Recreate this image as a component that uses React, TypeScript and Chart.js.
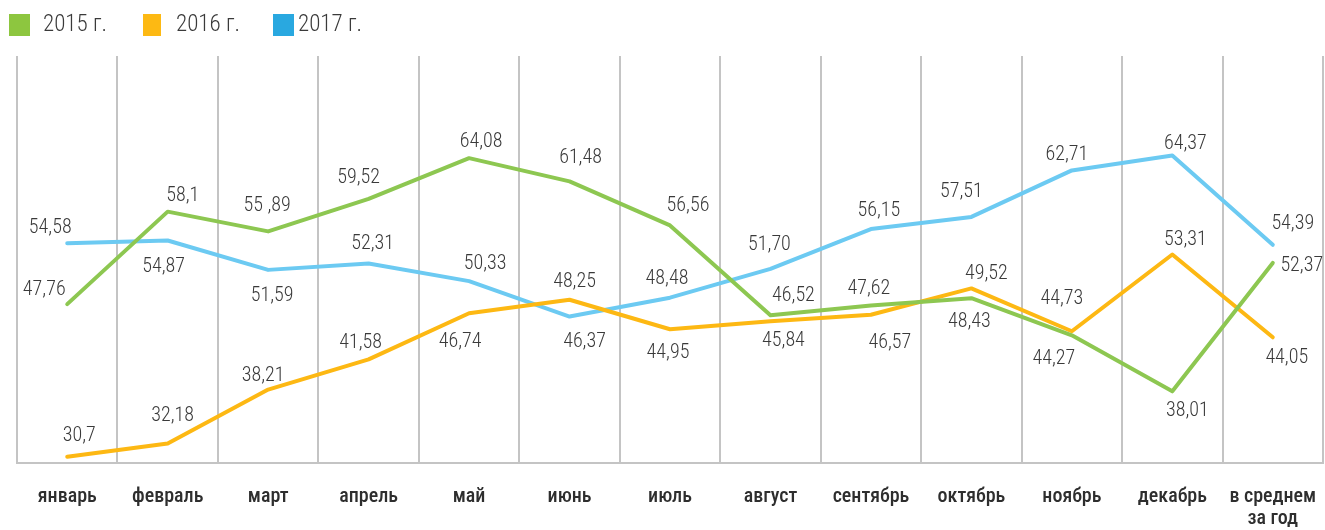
import React, { useEffect, useRef } from "react";
import { Chart, registerables } from "chart.js";

Chart.register(...registerables);

// ---- data ----
const categories: (string | string[])[] = [
  "январь",
  "февраль",
  "март",
  "апрель",
  "май",
  "июнь",
  "июль",
  "август",
  "сентябрь",
  "октябрь",
  "ноябрь",
  "декабрь",
  ["в среднем", "за год"],
];

const seriesNames = ["2015 г.", "2016 г.", "2017 г."];

const values2015 = [47.76, 58.1, 55.89, 59.52, 64.08, 61.48, 56.56, 46.52, 47.62, 48.43, 44.27, 38.01, 52.37];
const values2016 = [30.7, 32.18, 38.21, 41.58, 46.74, 48.25, 44.95, 45.84, 46.57, 49.52, 44.73, 53.31, 44.05];
const values2017 = [54.58, 54.87, 51.59, 52.31, 50.33, 46.37, 48.48, 51.7, 56.15, 57.51, 62.71, 64.37, 54.39];

const texts2015 = ["47,76", "58,1", "55 ,89", "59,52", "64,08", "61,48", "56,56", "46,52", "47,62", "48,43", "44,27", "38,01", "52,37"];
const texts2016 = ["30,7", "32,18", "38,21", "41,58", "46,74", "48,25", "44,95", "45,84", "46,57", "49,52", "44,73", "53,31", "44,05"];
const texts2017 = ["54,58", "54,87", "51,59", "52,31", "50,33", "46,37", "48,48", "51,70", "56,15", "57,51", "62,71", "64,37", "54,39"];

// ---- label placement (offset of label centre from its point, px) ----
const offsets2015: [number, number][] = [
  [-23, -16], [15, -18], [-1, -27], [-10, -23], [12, -18], [11, -25], [18, -21],
  [23, -21], [-2, -18], [-2, 22], [-18, 22], [15, 18], [29, 1],
];
const offsets2016: [number, number][] = [
  [12, -23], [5, -29], [-5, -16], [-8, -18], [-9, 27], [5, -20], [-2, 22],
  [13, 18], [19, 26], [15, -16], [-10, -34], [13, -16], [14, 19],
];
const offsets2017: [number, number][] = [
  [-17, -17], [-4, 24], [4, 24], [4, -21], [16, -19], [15, 23], [-3, -21],
  [-1, -26], [8, -20], [-10, -27], [-5, -17], [13, -14], [20, -23],
];

// ---- styles ----
const lineColors = ["#8dc751", "#fdb813", "#6ccaf2"];
const legendColors = ["#8dc63f", "#fdb913", "#29a8e0"];
const textColor = "#3a3a3a";
const gridColor = "#c4c4c4";
const FONT = '"Roboto Condensed", "Roboto", sans-serif';

const allTexts = [texts2015, texts2016, texts2017];
const allOffsets = [offsets2015, offsets2016, offsets2017];

const valueLabelPlugin = {
  id: "valueLabels",
  afterDatasetsDraw(chart: any) {
    const ctx: CanvasRenderingContext2D = chart.ctx;
    ctx.save();
    ctx.font = `300 20px ${FONT}`;
    ctx.fillStyle = textColor;
    ctx.textAlign = "center";
    ctx.textBaseline = "alphabetic";
    chart.data.datasets.forEach((_ds: any, di: number) => {
      const meta = chart.getDatasetMeta(di);
      meta.data.forEach((el: any, i: number) => {
        const [dx, dy] = allOffsets[di][i];
        ctx.fillText(allTexts[di][i], el.x + dx, el.y + dy + 7);
      });
    });
    ctx.restore();
  },
};

const legendLayout = [
  { box: 9, boxW: 21, text: 43 },
  { box: 143, boxW: 18, text: 176 },
  { box: 273, boxW: 21, text: 298 },
];

export default function App() {
  const canvasRef = useRef<HTMLCanvasElement | null>(null);

  useEffect(() => {
    document.body.style.margin = "0";
    const canvas = canvasRef.current;
    if (!canvas) return;
    const seriesValues = [values2015, values2016, values2017];
    const chart = new Chart(canvas, {
      type: "line",
      data: {
        labels: categories as any,
        datasets: seriesValues.map((vals, i) => ({
          label: seriesNames[i],
          data: vals,
          borderColor: lineColors[i],
          backgroundColor: lineColors[i],
          borderWidth: 4,
          pointRadius: 0,
          pointHoverRadius: 0,
          tension: 0,
          fill: false,
          borderCapStyle: "round" as const,
          borderJoinStyle: "round" as const,
          clip: false as any,
        })),
      },
      options: {
        responsive: false,
        animation: false,
        events: [],
        layout: { padding: { top: 56, left: 17, right: 2, bottom: 0 } },
        plugins: {
          legend: { display: false },
          tooltip: { enabled: false },
          title: { display: false },
        },
        scales: {
          x: {
            type: "category",
            offset: true,
            grid: {
              display: true,
              offset: true,
              color: gridColor,
              lineWidth: 2,
              drawTicks: true,
              tickLength: 23,
              tickColor: "rgba(0,0,0,0)",
            },
            border: { display: true, color: gridColor, width: 2 },
            ticks: {
              autoSkip: false,
              maxRotation: 0,
              minRotation: 0,
              padding: 0,
              color: "#2e2e2e",
              font: { family: FONT, size: 20, weight: 500 as any, lineHeight: 1.1 },
            },
          },
          y: {
            display: false,
            min: 30,
            max: 75.5,
          },
        },
      },
      plugins: [valueLabelPlugin],
    });
    return () => chart.destroy();
  }, []);

  return (
    <div style={{ position: "relative", width: 1325, height: 530, background: "#fff" }}>
      <canvas ref={canvasRef} width={1325} height={530} style={{ position: "absolute", left: 0, top: 0 }} />
      {legendLayout.map((l, i) => (
        <React.Fragment key={i}>
          <div
            style={{
              position: "absolute",
              left: l.box,
              top: 14,
              width: l.boxW,
              height: 22,
              background: legendColors[i],
            }}
          />
          <div
            style={{
              position: "absolute",
              left: l.text,
              top: 10,
              height: 28,
              lineHeight: "28px",
              fontFamily: FONT,
              fontWeight: 300,
              fontSize: 23,
              color: textColor,
              whiteSpace: "nowrap",
            }}
          >
            {seriesNames[i]}
          </div>
        </React.Fragment>
      ))}
    </div>
  );
}
